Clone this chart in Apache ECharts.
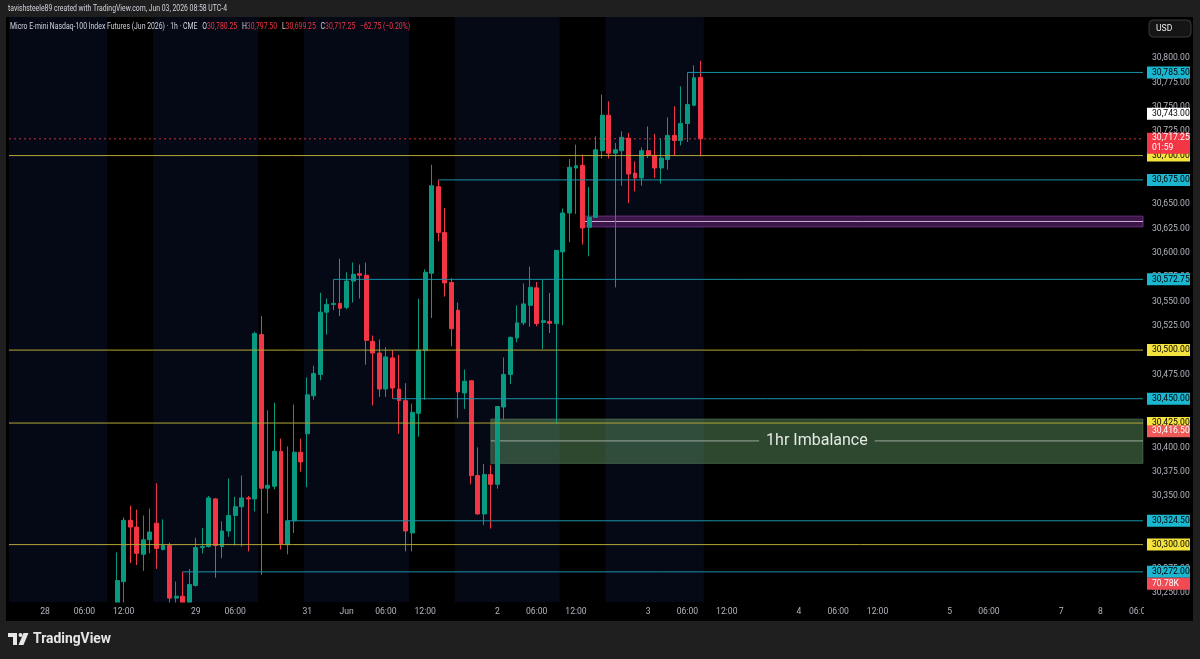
<!DOCTYPE html>
<html><head><meta charset="utf-8">
<script src="https://cdn.jsdelivr.net/npm/echarts@6/dist/echarts.min.js"></script>
<style>html,body{margin:0;padding:0;background:#1f1f1f;overflow:hidden}#c{width:1200px;height:659px}</style>
</head><body><div id="c"></div>
<script>
// ---------- DATA ----------
// trading sessions shown on the time axis: [day, first hour, last hour]
const sessionDays = [
  ['May 27', 19, 23], ['May 28', 0, 16], ['May 28', 18, 23], ['May 29', 0, 16],
  ['May 31', 18, 23], ['Jun 1', 0, 16], ['Jun 1', 18, 23], ['Jun 2', 0, 16], ['Jun 2', 18, 23],
  ['Jun 3', 0, 16], ['Jun 3', 18, 23], ['Jun 4', 0, 16], ['Jun 4', 18, 23], ['Jun 5', 0, 16],
  ['Jun 7', 18, 23], ['Jun 8', 0, 6]
];
const categories = [];
sessionDays.forEach(([d, h0, h1]) => { for (let h = h0; h <= h1; h++) categories.push(d + ' ' + String(h).padStart(2, '0') + ':00'); });

const xTickCats  = ['May 28 00:00','May 28 06:00','May 28 12:00','May 29 00:00','May 29 06:00','May 31 18:00','Jun 1 00:00','Jun 1 06:00','Jun 1 12:00','Jun 2 00:00','Jun 2 06:00','Jun 2 12:00','Jun 3 00:00','Jun 3 06:00','Jun 3 12:00','Jun 4 00:00','Jun 4 06:00','Jun 4 12:00','Jun 5 00:00','Jun 5 06:00','Jun 7 18:00','Jun 8 00:00','Jun 8 06:00'];
const xTickTexts = ['28','06:00','12:00','29','06:00','31','Jun','06:00','12:00','2','06:00','12:00','3','06:00','12:00','4','06:00','12:00','5','06:00','7','8','06:00'];
const priceTicks = [30250,30275,30300,30325,30350,30375,30400,30425,30450,30475,30500,30525,30550,30575,30600,30625,30650,30675,30700,30725,30750,30775,30800];

// hourly candles, first one at candleStart
const candleStart = 'May 28 11:00';
const opens  = [30228,30262,30325,30318,30290,30305,30322,30295,30299,30245,30247,30238,30258,30297,30298,30347,30298,30314,30330,30339,30348,30347,30516,30358,30360,30396,30300,30324.5,30395,30414,30453,30475,30539,30547,30548,30544,30571,30578.5,30577,30509,30497,30460,30492,30460,30448,30312,30435,30499.5,30579,30668,30621,30569.5,30541,30456,30468.5,30371,30331.5,30372,30362,30441.5,30475,30512.5,30528,30546,30564,30528.5,30529.5,30527.25,30601,30641,30687.25,30690,30626.25,30636.5,30705,30741.5,30702.5,30705,30718,30682,30677,30705,30700.25,30687.25,30696,30720.75,30715.5,30733,30751.75,30780.25];
const highs  = [30292,30328,30340,30336,30330,30337,30363,30326,30302,30262,30272,30275,30307,30317,30350,30348,30324,30368,30349,30371,30350,30519,30535,30438,30446,30409,30401,30444,30409,30472,30484,30559,30553,30572.75,30594,30580,30590,30588,30590,30515,30511,30503,30500,30495,30466,30445,30553,30583,30690.5,30675,30646,30574,30549,30480,30469,30400,30383,30382,30442,30492.5,30514,30546,30568.5,30586,30570,30572.5,30558.75,30602.5,30645.5,30696.5,30711.25,30701,30667.5,30719.75,30762.75,30755.75,30713,30725,30723.25,30694,30708.5,30730,30722.25,30717.5,30739.25,30750.75,30771.25,30785.5,30792.75,30797.5];
const lows   = [30222,30230,30281,30279,30273,30291,30275,30294,30232,30236,30228,30232,30257,30291,30297,30266,30286,30308,30299,30298,30293,30334,30269,30332,30357,30295,30290,30312,30375,30359,30449,30469,30516,30541,30535,30542,30549,30553,30485,30443,30452,30452,30450,30414,30293,30293,30411,30449,30533,30612,30555,30504,30430,30439.5,30362,30331,30320,30316.5,30357.5,30428.5,30465,30508,30525.5,30524,30524.5,30501,30517.5,30424,30525.5,30611,30640,30608.5,30596.5,30636,30697,30697,30564.5,30669,30651.25,30663.25,30669,30697.5,30677,30671.25,30685.5,30700.25,30710.5,30714,30750.75,30699.25];
const closes = [30263,30325,30318,30291,30305,30313,30296,30299,30245,30247,30238,30259,30297,30298,30348,30299,30314,30330,30339,30348,30347,30517,30358,30361,30396,30301,30324.5,30395,30385,30454,30476,30539,30547,30548,30543,30571,30578,30577,30510,30497,30460,30493,30461,30448,30314,30436,30500,30580,30669,30621,30569,30522,30457,30468,30371,30331.5,30372,30362,30442,30475,30513,30528,30547.5,30564.5,30527.25,30530.25,30527.5,30602.5,30641,30688,30689.5,30625.5,30636.5,30706,30741.5,30702.5,30706,30718.75,30681,30677,30705,30700.25,30687.25,30697.5,30720.75,30715.5,30733,30752.5,30780,30717.25];

// extended-hours session shading (first bar, last bar)
const sessionBands = [['May 27 19:00','May 28 09:00'],['May 28 18:00','May 29 09:00'],['May 31 18:00','Jun 1 09:00'],['Jun 1 18:00','Jun 2 09:00'],['Jun 2 18:00','Jun 3 08:00']];

// drawn price levels
const yellowLevels = [30700, 30500, 30425, 30300];
const cyanLevels = [['Jun 3 06:00', 30785.5], ['Jun 1 14:00', 30675], ['May 31 22:00', 30572.75], ['Jun 1 07:00', 30450], ['May 29 14:00', 30324.5], ['May 28 22:00', 30272]];
const whiteTagLevel = 30743;
const salmonTagLevel = 30416.5;
const barCountdown = '01:59';
const volumeTag = '70.78K';
// zones: [start bar, top, bottom, mid]
const imbalanceZone = ['Jun 1 23:00', 30429.25, 30383.5, 30406.75];
const imbalanceLabel = '1hr Imbalance';
const purpleZone = ['Jun 2 13:00', 30637.75, 30626.75, 30632.25];

const headerText = 'tavishsteele89 created with TradingView.com, Jun 03, 2026 08:58 UTC-4';
const symbolText = 'Micro E-mini Nasdaq-100 Index Futures (Jun 2026) · 1h · CME';

// ---------- BUILD ----------
const UI = 'Roboto';
const idx = c => categories.indexOf(c);
const fmt = v => v.toLocaleString('en-US', {minimumFractionDigits: 2, maximumFractionDigits: 2});
const s0 = idx(candleStart);
const candleData = categories.map((c, i) => {
  const k = i - s0;
  return (k >= 0 && k < opens.length) ? [opens[k], closes[k], lows[k], highs[k]] : '-';
});
const tickMap = {}; xTickCats.forEach((c, i) => tickMap[c] = xTickTexts[i]);

const n = closes.length - 1;
const lastClose = closes[n];
const chg = lastClose - closes[n - 1];
const pct = chg / closes[n - 1] * 100;
const sgn = v => (v < 0 ? '\u2212' : '+') + Math.abs(v).toFixed(2);

// level rows: [startIdx, price, kind, full]
const levelRows = [];
yellowLevels.forEach(p => levelRows.push([0, p, 0, 1]));
cyanLevels.forEach(([c, p]) => levelRows.push([idx(c), p, 1, 0]));
levelRows.push([0, whiteTagLevel, 3, 1]);
levelRows.push([0, salmonTagLevel, 4, 1]);
levelRows.push([0, lastClose, 2, 1]);
const LEVEL_STYLE = [
  {line: '#b3a634', bg: '#f5e33d', fg: '#000000'},
  {line: '#1893a8', bg: '#1bb7d1', fg: '#000000'},
  {line: 'rgba(242,54,69,0.85)', dash: [2, 3], bg: '#f23645', fg: '#ffffff', sub: barCountdown},
  {line: null, bg: '#ffffff', fg: '#000000'},
  {line: null, bg: '#ee5a57', fg: '#ffffff'}
];
const volumeAnchor = cyanLevels[cyanLevels.length - 1][1];

const chart = echarts.init(document.getElementById('c'), null, {renderer: 'canvas'});
const TAGW = 43, TAGH = 12, LBL = 8.6;

function tag(x, y, h, bg) { return {type: 'rect', shape: {x: x, y: y, width: TAGW, height: h}, style: {fill: bg}}; }
function txt(s, x, y, fill, size) {
  return {type: 'text', style: {text: s, x: x, y: y, fill: fill, fontSize: size, fontFamily: UI, align: 'left', verticalAlign: 'middle'}};
}

const measureCtx = document.createElement('canvas').getContext('2d');
function fitScale(str, font, target) { measureCtx.font = font; return target / measureCtx.measureText(str).width; }
const legendPlain = symbolText + '  O' + fmt(opens[n]) + '  H' + fmt(highs[n]) + '  L' + fmt(lows[n]) + '  C' + fmt(lastClose) + '  ' + sgn(chg) + ' (' + sgn(pct) + '%)';
const headerScale = fitScale(headerText, '9.5px ' + UI, 219);
const legendScale = fitScale(legendPlain, '9.5px ' + UI, 393);
const logoScale = fitScale('TradingView', 'bold 15px ' + UI, 78);

chart.setOption({
  animation: false,
  backgroundColor: '#000000',
  grid: {left: 9, top: 17, width: 1134, height: 585, containLabel: false},
  xAxis: {
    type: 'category', data: categories, boundaryGap: true, z: 60,
    axisLine: {show: false}, axisTick: {show: false}, splitLine: {show: false},
    axisLabel: {
      interval: (i, v) => tickMap[v] !== undefined,
      formatter: v => tickMap[v] || '',
      color: '#b2b5be', fontSize: 8.6, fontFamily: UI, margin: 5
    }
  },
  yAxis: {
    type: 'value', position: 'right', min: 30241.0, max: 30842.5, scale: true,
    axisLine: {show: false}, axisTick: {show: false}, splitLine: {show: false},
    axisLabel: {customValues: priceTicks, formatter: v => fmt(v), color: '#b2b5be', fontSize: LBL, fontFamily: UI, margin: 9, align: 'left'}
  },
  series: [
    { // session shading
      type: 'custom', z: 1, silent: true, clip: true,
      data: sessionBands.map(([a, b]) => [idx(a), idx(b)]),
      encode: {x: [0, 1]},
      renderItem: (params, api) => {
        const cs = params.coordSys;
        const w = api.size([1, 0])[0];
        const a = api.coord([api.value(0), 30500])[0] - w / 2;
        const b = api.coord([api.value(1), 30500])[0] + w / 2;
        const x0 = Math.max(a, cs.x);
        return {type: 'rect', shape: {x: x0, y: cs.y, width: b - x0, height: cs.height}, style: {fill: '#050916'}};
      }
    },
    { // zones
      type: 'custom', z: 2, silent: true, clip: false,
      data: [[idx(imbalanceZone[0]), imbalanceZone[1], imbalanceZone[2], imbalanceZone[3], 0],
             [idx(purpleZone[0]), purpleZone[1], purpleZone[2], purpleZone[3], 1]],
      encode: {x: 0, y: [1, 2]},
      renderItem: (params, api) => {
        const cs = params.coordSys, right = cs.x + cs.width;
        const p1 = api.coord([api.value(0), api.value(1)]);
        const yb = api.coord([api.value(0), api.value(2)])[1];
        const ym = api.coord([api.value(0), api.value(3)])[1];
        const x0 = p1[0], yt = p1[1];
        if (api.value(4) === 0) {
          measureCtx.font = '16px Roboto';
          const tw = measureCtx.measureText(imbalanceLabel).width;
          const cx = (x0 + right) / 2;
          return {type: 'group', children: [
            {type: 'rect', shape: {x: x0, y: yt, width: right - x0, height: yb - yt}, style: {fill: 'rgba(102,160,104,0.45)', stroke: 'rgba(120,170,120,0.35)', lineWidth: 1}},
            {type: 'line', shape: {x1: x0, y1: ym, x2: cx - tw / 2 - 7, y2: ym}, style: {stroke: 'rgba(220,225,220,0.5)', lineWidth: 1.2}},
            {type: 'line', shape: {x1: cx + tw / 2 + 7, y1: ym, x2: right, y2: ym}, style: {stroke: 'rgba(220,225,220,0.5)', lineWidth: 1.2}},
            {type: 'text', style: {text: imbalanceLabel, x: cx, y: ym, fill: '#e6e9e6', fontSize: 16, fontFamily: 'Roboto', align: 'center', verticalAlign: 'middle'}}
          ]};
        }
        return {type: 'group', children: [
          {type: 'rect', shape: {x: x0, y: yt, width: right - x0, height: yb - yt}, style: {fill: '#3a1747', stroke: '#6e2d84', lineWidth: 1}},
          {type: 'line', shape: {x1: x0, y1: ym, x2: right, y2: ym}, style: {stroke: '#d2acdc', lineWidth: 1}}
        ]};
      }
    },
    {
      type: 'candlestick', z: 3, data: candleData, barWidth: 4.4, silent: true,
      itemStyle: {color: '#089981', color0: '#f23645', borderColor: '#089981', borderColor0: '#f23645', borderWidth: 1}
    },
    { // levels + axis tags
      type: 'custom', z: 4, silent: true, clip: false,
      data: levelRows,
      encode: {x: 0, y: 1},
      renderItem: (params, api) => {
        const cs = params.coordSys, right = cs.x + cs.width;
        const kind = api.value(2), st = LEVEL_STYLE[kind];
        const price = api.value(1);
        const pt = api.coord([api.value(0), price]);
        const y = pt[1];
        const x0 = api.value(3) ? cs.x : pt[0];
        const ch = [];
        if (st.line) ch.push({type: 'line', shape: {x1: x0, y1: y, x2: right, y2: y}, style: {stroke: st.line, lineWidth: 1, lineDash: st.dash || null}});
        const tx = right + 4;
        if (st.sub) {
          ch.push(tag(tx, y - 6, 21, st.bg));
          ch.push(txt(fmt(price), tx + 5, y - 0.5, st.fg, LBL));
          ch.push(txt(st.sub, tx + 5, y + 9, st.fg, LBL));
        } else {
          ch.push(tag(tx, y - TAGH / 2, TAGH, st.bg));
          ch.push(txt(fmt(price), tx + 5, y, st.fg, LBL));
        }
        if (kind === 1 && price === volumeAnchor) {
          ch.push(tag(tx, y + TAGH / 2, TAGH, '#f04a55'));
          ch.push(txt(volumeTag, tx + 5, y + TAGH, '#ffffff', LBL));
        }
        return {type: 'group', children: ch};
      }
    }
  ],
  graphic: [
    // time-axis strip (hides wick overflow below the pane)
    {type: 'rect', z: 50, shape: {x: 6, y: 602.5, width: 1187, height: 19}, style: {fill: '#000000'}},
    // frame
    {type: 'rect', z: 100, shape: {x: 0, y: 0, width: 1200, height: 17}, style: {fill: '#1f1f1f'}},
    {type: 'rect', z: 100, shape: {x: 0, y: 621, width: 1200, height: 38}, style: {fill: '#1f1f1f'}},
    {type: 'rect', z: 100, shape: {x: 0, y: 0, width: 6, height: 659}, style: {fill: '#1f1f1f'}},
    {type: 'rect', z: 100, shape: {x: 1193, y: 0, width: 7, height: 659}, style: {fill: '#1f1f1f'}},
    {type: 'rect', z: 99, shape: {x: 1144, y: 603, width: 49, height: 18}, style: {fill: '#000000'}},
    {type: 'text', z: 101, x: 8, y: 9, scaleX: headerScale, style: {text: headerText, x: 0, y: 0, fill: '#d1d4dc', fontSize: 9.5, fontFamily: UI, verticalAlign: 'middle'}},
    {type: 'text', z: 101, x: 10, y: 27, scaleX: legendScale, style: {
      text: '{t|' + symbolText + '}  {k|O}{v|' + fmt(opens[n]) + '}  {k|H}{v|' + fmt(highs[n]) + '}  {k|L}{v|' + fmt(lows[n]) + '}  {k|C}{v|' + fmt(lastClose) + '}  {v|' + sgn(chg) + ' (' + sgn(pct) + '%)}',
      x: 0, y: 0, verticalAlign: 'middle',
      rich: {
        t: {fill: '#d1d4dc', fontSize: 9.5, fontFamily: UI},
        k: {fill: '#d1d4dc', fontSize: 9.5, fontFamily: UI},
        v: {fill: '#f23645', fontSize: 9.5, fontFamily: UI}
      }
    }},
    // currency button
    {type: 'rect', z: 101, shape: {x: 1149, y: 20, width: 42, height: 17, r: 4}, style: {fill: '#151515', stroke: '#3a3a3a', lineWidth: 1}},
    {type: 'text', z: 102, style: {text: 'USD', x: 1156, y: 28.5, fill: '#e8e8e8', fontSize: 8.6, fontFamily: UI, verticalAlign: 'middle'}},
    // TradingView logo
    {type: 'rect', z: 101, shape: {x: 8, y: 633, width: 9, height: 4}, style: {fill: '#e6e6e6'}},
    {type: 'rect', z: 101, shape: {x: 13, y: 633, width: 4, height: 12}, style: {fill: '#e6e6e6'}},
    {type: 'circle', z: 101, shape: {cx: 20.5, cy: 635, r: 2}, style: {fill: '#e6e6e6'}},
    {type: 'polygon', z: 101, shape: {points: [[23.5, 633], [28.5, 633], [23.5, 645], [18.5, 645]]}, style: {fill: '#e6e6e6'}},
    {type: 'text', z: 101, x: 33, y: 639, scaleX: logoScale, style: {text: 'TradingView', x: 0, y: 0, fill: '#e6e6e6', fontSize: 15, fontWeight: 'bold', fontFamily: UI, verticalAlign: 'middle'}}
  ]
});
</script></body></html>
